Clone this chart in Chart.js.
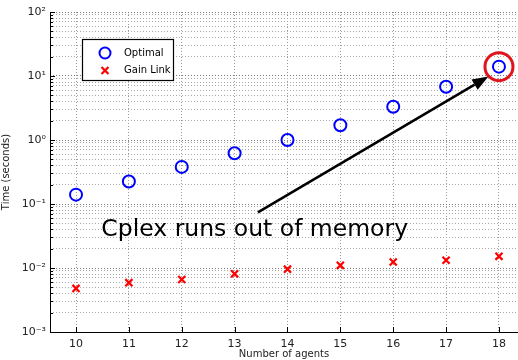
<!DOCTYPE html>
<html>
<head>
<meta charset="utf-8">
<script src="https://cdn.jsdelivr.net/npm/chart.js@4/dist/chart.umd.min.js"></script>
<style>
  html, body { margin: 0; padding: 0; background: #fff; overflow: hidden; }
  canvas { display: block; }
</style>
</head>
<body>
<canvas id="c" width="518" height="360"></canvas>
<script>
const agents = [10, 11, 12, 13, 14, 15, 16, 17, 18];
const optimalTime = [0.14, 0.225, 0.38, 0.62, 1.0, 1.7, 3.3, 6.8, 14];
const gainLinkTime = [0.0048, 0.0059, 0.0066, 0.0081, 0.0096, 0.011, 0.0124, 0.0132, 0.0152];
const seriesNames = ["Optimal", "Gain Link"];
const yDecades = [0.001, 0.01, 0.1, 1, 10, 100];
const yTickLabels = ["10⁻³", "10⁻²", "10⁻¹", "10⁰", "10¹", "10²"];
const xTicks = [10, 11, 12, 13, 14, 15, 16, 17, 18];
const noteText = "Cplex runs out of memory";
const notePos = { x: 13.38, y: 0.04 };
const arrowFrom = { x: 13.44, y: 0.074 };
const arrowTo = { x: 17.8, y: 9.8 };

const FONT = "'DejaVu Sans', sans-serif";

// every 1..9 x 10^k between the decades, for the dotted minor grid
const yGridTicks = [];
for (let i = 0; i < yDecades.length - 1; i++) {
  for (let m = 1; m < 10; m++) yGridTicks.push(yDecades[i] * m);
}
yGridTicks.push(yDecades[yDecades.length - 1]);

function isDecade(v) {
  return yDecades.some(d => Math.abs(v / d - 1) < 1e-6);
}

const extras = {
  id: "extras",
  afterDraw(chart) {
    const ctx = chart.ctx;
    const xs = chart.scales.x, ys = chart.scales.y;
    const area = chart.chartArea;

    ctx.save();
    // axes lines
    ctx.strokeStyle = "#000";
    ctx.lineWidth = 1;
    ctx.beginPath();
    ctx.moveTo(area.left + 0.5, area.top);
    ctx.lineTo(area.left + 0.5, area.bottom + 0.5);
    ctx.lineTo(area.right, area.bottom + 0.5);
    ctx.stroke();

    // inward tick marks
    ctx.beginPath();
    yGridTicks.forEach(v => {
      const py = Math.round(ys.getPixelForValue(v)) + 0.5;
      const len = isDecade(v) ? 5 : 3;
      ctx.moveTo(area.left, py);
      ctx.lineTo(area.left + len, py);
    });
    xTicks.forEach(v => {
      const px = Math.round(xs.getPixelForValue(v)) + 0.5;
      ctx.moveTo(px, area.bottom);
      ctx.lineTo(px, area.bottom - 5);
    });
    ctx.stroke();

    // red circle round the last optimal point
    const last = optimalTime.length - 1;
    const cx = xs.getPixelForValue(agents[last]);
    const cy = ys.getPixelForValue(optimalTime[last]);
    ctx.strokeStyle = "#e0141c";
    ctx.lineWidth = 3;
    ctx.beginPath();
    ctx.arc(cx, cy, 14, 0, Math.PI * 2);
    ctx.stroke();

    // arrow
    const x0 = xs.getPixelForValue(arrowFrom.x), y0 = ys.getPixelForValue(arrowFrom.y);
    const x1 = xs.getPixelForValue(arrowTo.x), y1 = ys.getPixelForValue(arrowTo.y);
    const ang = Math.atan2(y1 - y0, x1 - x0);
    const headLen = 16, headW = 6;
    const bx = x1 - headLen * Math.cos(ang), by = y1 - headLen * Math.sin(ang);
    ctx.strokeStyle = "#000";
    ctx.lineWidth = 2.5;
    ctx.beginPath();
    ctx.moveTo(x0, y0);
    ctx.lineTo(bx, by);
    ctx.stroke();
    ctx.fillStyle = "#000";
    ctx.beginPath();
    ctx.moveTo(x1, y1);
    ctx.lineTo(bx + headW * Math.sin(ang), by - headW * Math.cos(ang));
    ctx.lineTo(bx - headW * Math.sin(ang), by + headW * Math.cos(ang));
    ctx.closePath();
    ctx.fill();

    // annotation text
    ctx.font = "23.5px " + FONT;
    ctx.textAlign = "center";
    ctx.textBaseline = "middle";
    ctx.fillText(noteText, xs.getPixelForValue(notePos.x), ys.getPixelForValue(notePos.y));

    // legend box
    const lx = 82, ly = 39, lw = 91, lh = 41;
    ctx.fillStyle = "#fff";
    ctx.fillRect(lx, ly, lw, lh);
    ctx.strokeStyle = "#000";
    ctx.lineWidth = 1.2;
    ctx.strokeRect(lx + 0.5, ly + 0.5, lw, lh);
    ctx.font = "10px " + FONT;
    ctx.textAlign = "left";
    ctx.fillStyle = "#000";
    // optimal marker
    ctx.strokeStyle = "#0000ff";
    ctx.lineWidth = 2;
    ctx.beginPath();
    ctx.arc(105, 53, 5.5, 0, Math.PI * 2);
    ctx.stroke();
    ctx.fillText(seriesNames[0], 124, 53);
    // gain link marker
    ctx.strokeStyle = "#ff0000";
    ctx.lineWidth = 2.2;
    ctx.beginPath();
    ctx.moveTo(101.5, 67); ctx.lineTo(108.5, 74);
    ctx.moveTo(108.5, 67); ctx.lineTo(101.5, 74);
    ctx.stroke();
    ctx.fillText(seriesNames[1], 124, 70.5);
    ctx.restore();
  }
};

new Chart(document.getElementById("c"), {
  type: "scatter",
  data: {
    datasets: [
      {
        label: seriesNames[0],
        data: agents.map((a, i) => ({ x: a, y: optimalTime[i] })),
        pointStyle: "circle",
        pointRadius: 6,
        pointBorderWidth: 2,
        borderColor: "#0000ff",
        backgroundColor: "rgba(0,0,0,0)"
      },
      {
        label: seriesNames[1],
        data: agents.map((a, i) => ({ x: a, y: gainLinkTime[i] })),
        pointStyle: "crossRot",
        pointRadius: 5,
        pointBorderWidth: 2.2,
        borderColor: "#ff0000",
        backgroundColor: "#ff0000"
      }
    ]
  },
  options: {
    responsive: false,
    animation: false,
    layout: { autoPadding: false, padding: { top: 12, right: 0, left: 0, bottom: 0 } },
    plugins: { legend: { display: false }, tooltip: { enabled: false } },
    scales: {
      x: {
        type: "linear",
        min: 9.508,
        max: 18.36,
        afterBuildTicks: s => { s.ticks = xTicks.map(v => ({ value: v })); },
        afterFit: s => { s.height = 28; s.paddingRight = 0; s.paddingLeft = 0; },
        border: { display: false, dash: [1, 2] },
        grid: { color: "#999", drawTicks: false, lineWidth: 1 },
        ticks: { color: "#222", font: { family: FONT, size: 11 }, padding: 6, maxRotation: 0 },
        title: { display: true, text: "Number of agents", color: "#222", font: { family: FONT, size: 10 }, padding: { top: -2, bottom: 0 } }
      },
      y: {
        type: "logarithmic",
        min: 0.001,
        max: 100,
        afterBuildTicks: s => { s.ticks = yGridTicks.map(v => ({ value: v, major: isDecade(v) })); },
        afterFit: s => { s.width = 50; },
        border: { display: false, dash: [1, 2] },
        grid: {
          color: ctx => (ctx.tick && ctx.tick.major ? "#777" : "#aaa"),
          drawTicks: false,
          lineWidth: 1
        },
        ticks: {
          autoSkip: false,
          color: "#222",
          font: { family: FONT, size: 11 },
          padding: 4,
          callback: v => {
            const i = yDecades.findIndex(d => Math.abs(v / d - 1) < 1e-6);
            return i >= 0 ? yTickLabels[i] : "";
          }
        },
        title: { display: true, text: "Time (seconds)", color: "#222", font: { family: FONT, size: 10 }, padding: { top: 0, bottom: 2 } }
      }
    }
  },
  plugins: [extras]
});
</script>
</body>
</html>
